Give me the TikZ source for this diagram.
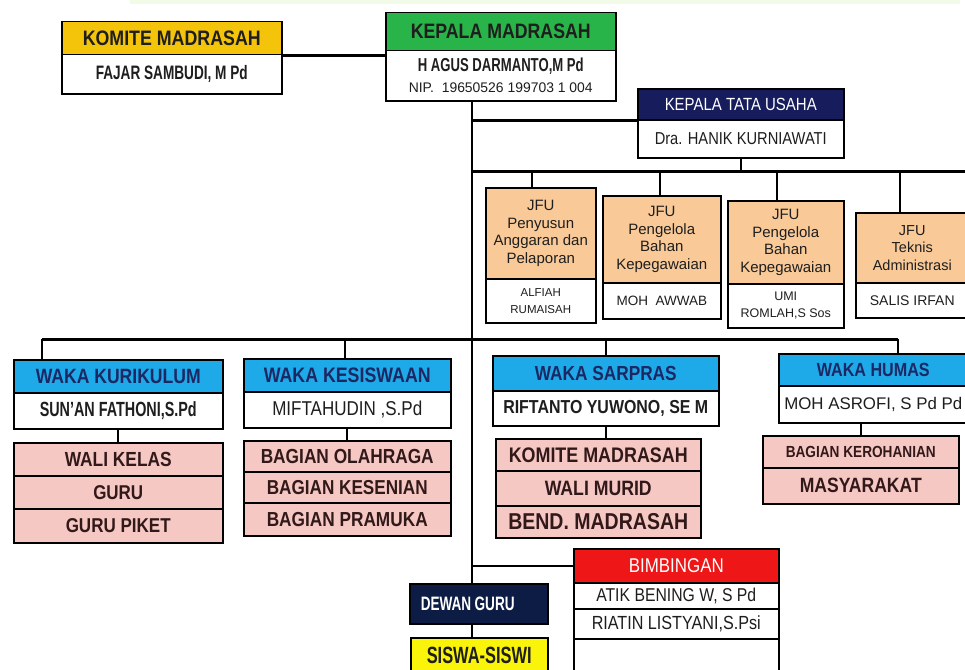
\documentclass[tikz,border=0pt]{standalone}
\usepackage{fontspec}
\setmainfont{Liberation Sans}
\newfontfamily\cf[FakeStretch=0.85]{Liberation Sans}
\newfontfamily\cn[FakeStretch=0.7]{Liberation Sans}
\newfontfamily\nf{Liberation Sans}
\definecolor{cgold}{RGB}{244,196,10}
\definecolor{cgreen}{RGB}{40,180,72}
\definecolor{cnavy}{RGB}{22,28,92}
\definecolor{cdg}{RGB}{12,28,68}
\definecolor{cblue}{RGB}{30,170,232}
\definecolor{cpink}{RGB}{246,200,196}
\definecolor{cpeach}{RGB}{249,202,152}
\definecolor{cred}{RGB}{238,22,22}
\definecolor{cyel}{RGB}{250,244,10}
\definecolor{ctxt}{RGB}{30,30,30}
\definecolor{cwtxt}{RGB}{28,40,100}
\definecolor{cptxt}{RGB}{50,25,25}
\definecolor{cband}{RGB}{242,250,232}
\newlength\fitl
\newcommand\fw[2]{\settowidth\fitl{\fontsize{10}{12}\selectfont #2}%
  \pgfmathsetmacro\fitsz{10*#1/\fitl}\pgfmathsetmacro\fitbs{1.2*\fitsz}%
  \fontsize{\fitsz}{\fitbs}\selectfont #2}
\tikzset{
  cell/.style={draw=black, line width=1.5pt, inner sep=0pt, anchor=north west, align=center, text=ctxt},
  conn/.style={line width=2.4pt},
  bus/.style={line width=3pt},
  jfu/.style={font=\nf\fontsize{15}{17.5}\selectfont},
}
\begin{document}
\begin{tikzpicture}[x=1pt,y=-1pt]
\useasboundingbox (0,0) rectangle (965,669);
\fill[white] (0,0) rectangle (965,669);
\fill[cband] (130,0) rectangle (960,4);

% Komite Madrasah
\node[cell, fill=cgold, minimum width=220, minimum height=33, font=\cf\bfseries] (komh) at (61,21) {\fw{178}{KOMITE MADRASAH}};
\node[cell, fill=white, minimum width=220, minimum height=39, font=\cn\bfseries] (komb) at (61,54) {\fw{152}{FAJAR SAMBUDI, M Pd}};

% Kepala Madrasah
\node[cell, fill=cgreen, minimum width=230, minimum height=38, font=\cf\bfseries] (kmh) at (385,12) {\fw{180}{KEPALA MADRASAH}};
\node[cell, fill=white, minimum width=230, minimum height=50, font=\fontsize{15}{20}\selectfont] (kmb) at (385,50) {{\cn\bfseries\fw{166}{H AGUS DARMANTO,M Pd}}\\[1pt]{\nf\fw{184}{NIP.\ \ 19650526 199703 1 004}}};

% Kepala Tata Usaha
\node[cell, fill=cnavy, text=white, minimum width=206, minimum height=31, font=\cf] (ktuh) at (637,88) {\fw{152}{KEPALA TATA USAHA}};
\node[cell, fill=white, minimum width=206, minimum height=38, font=\cf] (ktub) at (637,119) {\fw{172}{Dra. HANIK KURNIAWATI}};

% JFU
\node[cell, fill=cpeach, minimum width=110, minimum height=91, jfu] (j1h) at (485,187) {JFU\\Penyusun\\Anggaran dan\\Pelaporan};
\node[cell, fill=white, minimum width=110, minimum height=44, font=\nf\fontsize{11.5}{17}\selectfont] (j1b) at (485,278) {ALFIAH\\RUMAISAH};
\node[cell, fill=cpeach, minimum width=118, minimum height=87, jfu] (j2h) at (602,195) {JFU\\Pengelola\\Bahan\\Kepegawaian};
\node[cell, fill=white, minimum width=118, minimum height=36, font=\nf\fontsize{13.5}{16}\selectfont] (j2b) at (602,282) {MOH\ \ AWWAB};
\node[cell, fill=cpeach, minimum width=116, minimum height=83, jfu] (j3h) at (727,200) {JFU\\Pengelola\\Bahan\\Kepegawaian};
\node[cell, fill=white, minimum width=116, minimum height=44, font=\nf\fontsize{12.5}{17}\selectfont] (j3b) at (727,283) {UMI\\ROMLAH,S Sos};
\node[cell, fill=cpeach, minimum width=113, minimum height=70, font=\nf\fontsize{14.5}{17.5}\selectfont] (j4h) at (855,212) {JFU\\Teknis\\Administrasi};
\node[cell, fill=white, minimum width=113, minimum height=35, font=\nf\fontsize{14}{16}\selectfont] (j4b) at (855,282) {SALIS IRFAN};

% Waka Kurikulum
\node[cell, fill=cblue, text=cwtxt, minimum width=209, minimum height=33, font=\cf\bfseries] (wkh) at (13,359) {\fw{165}{WAKA KURIKULUM}};
\node[cell, fill=white, minimum width=209, minimum height=36, font=\cn\bfseries] (wkb) at (13,392) {\fw{157}{SUN’AN FATHONI,S.Pd}};
\node[cell, fill=cpink, text=cptxt, minimum width=209, minimum height=33, font=\cf\bfseries] (wk1) at (13,442) {\fw{107}{WALI KELAS}};
\node[cell, fill=cpink, text=cptxt, minimum width=209, minimum height=33, font=\cf\bfseries] (wk2) at (13,475) {\fw{50}{GURU}};
\node[cell, fill=cpink, text=cptxt, minimum width=209, minimum height=34, font=\cf\bfseries] (wk3) at (13,508) {\fw{105}{GURU PIKET}};

% Waka Kesiswaan
\node[cell, fill=cblue, text=cwtxt, minimum width=207, minimum height=33, font=\cf\bfseries] (ksh) at (243,358) {\fw{167}{WAKA KESISWAAN}};
\node[cell, fill=white, minimum width=207, minimum height=36, font=\cf] (ksb) at (243,391) {\fw{150}{MIFTAHUDIN ,S.Pd}};
\node[cell, fill=cpink, text=cptxt, minimum width=207, minimum height=31, font=\cf\bfseries] (ks1) at (243,440) {\fw{173}{BAGIAN OLAHRAGA}};
\node[cell, fill=cpink, text=cptxt, minimum width=207, minimum height=31, font=\cf\bfseries] (ks2) at (243,471) {\fw{161}{BAGIAN KESENIAN}};
\node[cell, fill=cpink, text=cptxt, minimum width=207, minimum height=33, font=\cf\bfseries] (ks3) at (243,502) {\fw{161}{BAGIAN PRAMUKA}};

% Waka Sarpras
\node[cell, fill=cblue, text=cwtxt, minimum width=226, minimum height=35, font=\cf\bfseries] (sph) at (492,355) {\fw{142}{WAKA SARPRAS}};
\node[cell, fill=white, minimum width=226, minimum height=35, font=\cf\bfseries] (spb) at (492,390) {\fw{205}{RIFTANTO YUWONO, SE M}};
\node[cell, fill=cpink, text=cptxt, minimum width=205, minimum height=32, font=\cf\bfseries] (sp1) at (495,438) {\fw{179}{KOMITE MADRASAH}};
\node[cell, fill=cpink, text=cptxt, minimum width=205, minimum height=35, font=\cf\bfseries] (sp2) at (495,470) {\fw{107}{WALI MURID}};
\node[cell, fill=cpink, text=cptxt, minimum width=205, minimum height=32, font=\cf\bfseries] (sp3) at (495,505) {\fw{180}{BEND. MADRASAH}};

% Waka Humas
\node[cell, fill=cblue, text=cwtxt, minimum width=189, minimum height=32, font=\cf\bfseries] (hmh) at (778,353) {\fw{113}{WAKA HUMAS}};
\node[cell, fill=white, minimum width=189, minimum height=37, font=\nf] (hmb) at (778,385) {\fw{178}{MOH ASROFI, S Pd Pd}};
\node[cell, fill=cpink, text=cptxt, minimum width=196, minimum height=32, font=\cf\bfseries] (hm1) at (762,435) {\fw{150}{BAGIAN KEROHANIAN}};
\node[cell, fill=cpink, text=cptxt, minimum width=196, minimum height=36, font=\cf\bfseries] (hm2) at (762,467) {\fw{122}{MASYARAKAT}};

% Bimbingan
\node[cell, fill=cred, text=white, minimum width=205, minimum height=34, font=\cf] (bmh) at (573,548) {\fw{95}{BIMBINGAN}};
\node[cell, fill=white, minimum width=205, minimum height=26, font=\cf] (bm1) at (573,582) {\fw{160}{ATIK BENING W, S Pd}};
\node[cell, fill=white, minimum width=205, minimum height=30, font=\cf] (bm2) at (573,608) {\fw{169}{RIATIN LISTYANI,S.Psi}};
\node[cell, fill=white, minimum width=205, minimum height=40] (bm3) at (573,638) {};

% Dewan Guru and Siswa
\node[cell, fill=cdg, text=white, inner xsep=11pt, text width=116pt, align=left, minimum height=40, font=\cn\bfseries] (dg) at (409,583) {\fw{97}{DEWAN GURU}};
\node[cell, fill=cyel, minimum width=137, minimum height=36, font=\cn\bfseries] (ss) at (410,637) {\fw{105}{SISWA-SISWI}};

% connectors
\coordinate (tx) at (472,0);
\coordinate (b1L) at (472,171);
\coordinate (b1R) at (965,171);
\coordinate (d1) at (532,171);
\coordinate (d2) at (660,171);
\coordinate (d3) at (777,171);
\coordinate (d4) at (900,171);
\coordinate (b2L) at (42,339);
\coordinate (b2M) at (345,339);
\coordinate (b2R) at (898,339);

\draw[conn] (kmb.south -| tx) -- (dg.north -| tx);
\draw[conn] (komh.south east) -- (komh.south east -| kmh.west);
\draw[conn] (ktuh.south west -| tx) -- (ktuh.south west);
\draw[bus] (b1L) -- (b1R);
\draw[conn] (ktub.south) -- (ktub.south |- b1L);
\draw[conn] (d1) -- (d1 |- j1h.north);
\draw[conn] (d2) -- (d2 |- j2h.north);
\draw[conn] (d3) -- (d3 |- j3h.north);
\draw[conn] (d4) -- (d4 |- j4h.north);
\draw[bus] (b2L) -- (b2R);
\draw[conn] (b2L) -- (b2L |- wkh.north);
\draw[conn] (b2M) -- (b2M |- ksh.north);
\draw[conn] (sph.north |- b2L) -- (sph.north);
\draw[conn] (b2R) -- (b2R |- hmh.north);
\draw[conn] (wkb.south) -- (wkb.south |- wk1.north);
\draw[conn] (ksb.south) -- (ksb.south |- ks1.north);
\draw[conn] (spb.south) -- (spb.south |- sp1.north);
\draw[conn] (hm1.north |- hmb.south) -- (hm1.north);
\draw[conn] (bmh.west -| tx) -- (bmh.west);
\draw[conn] (dg.south -| tx) -- (ss.north -| tx);
\end{tikzpicture}
\end{document}
